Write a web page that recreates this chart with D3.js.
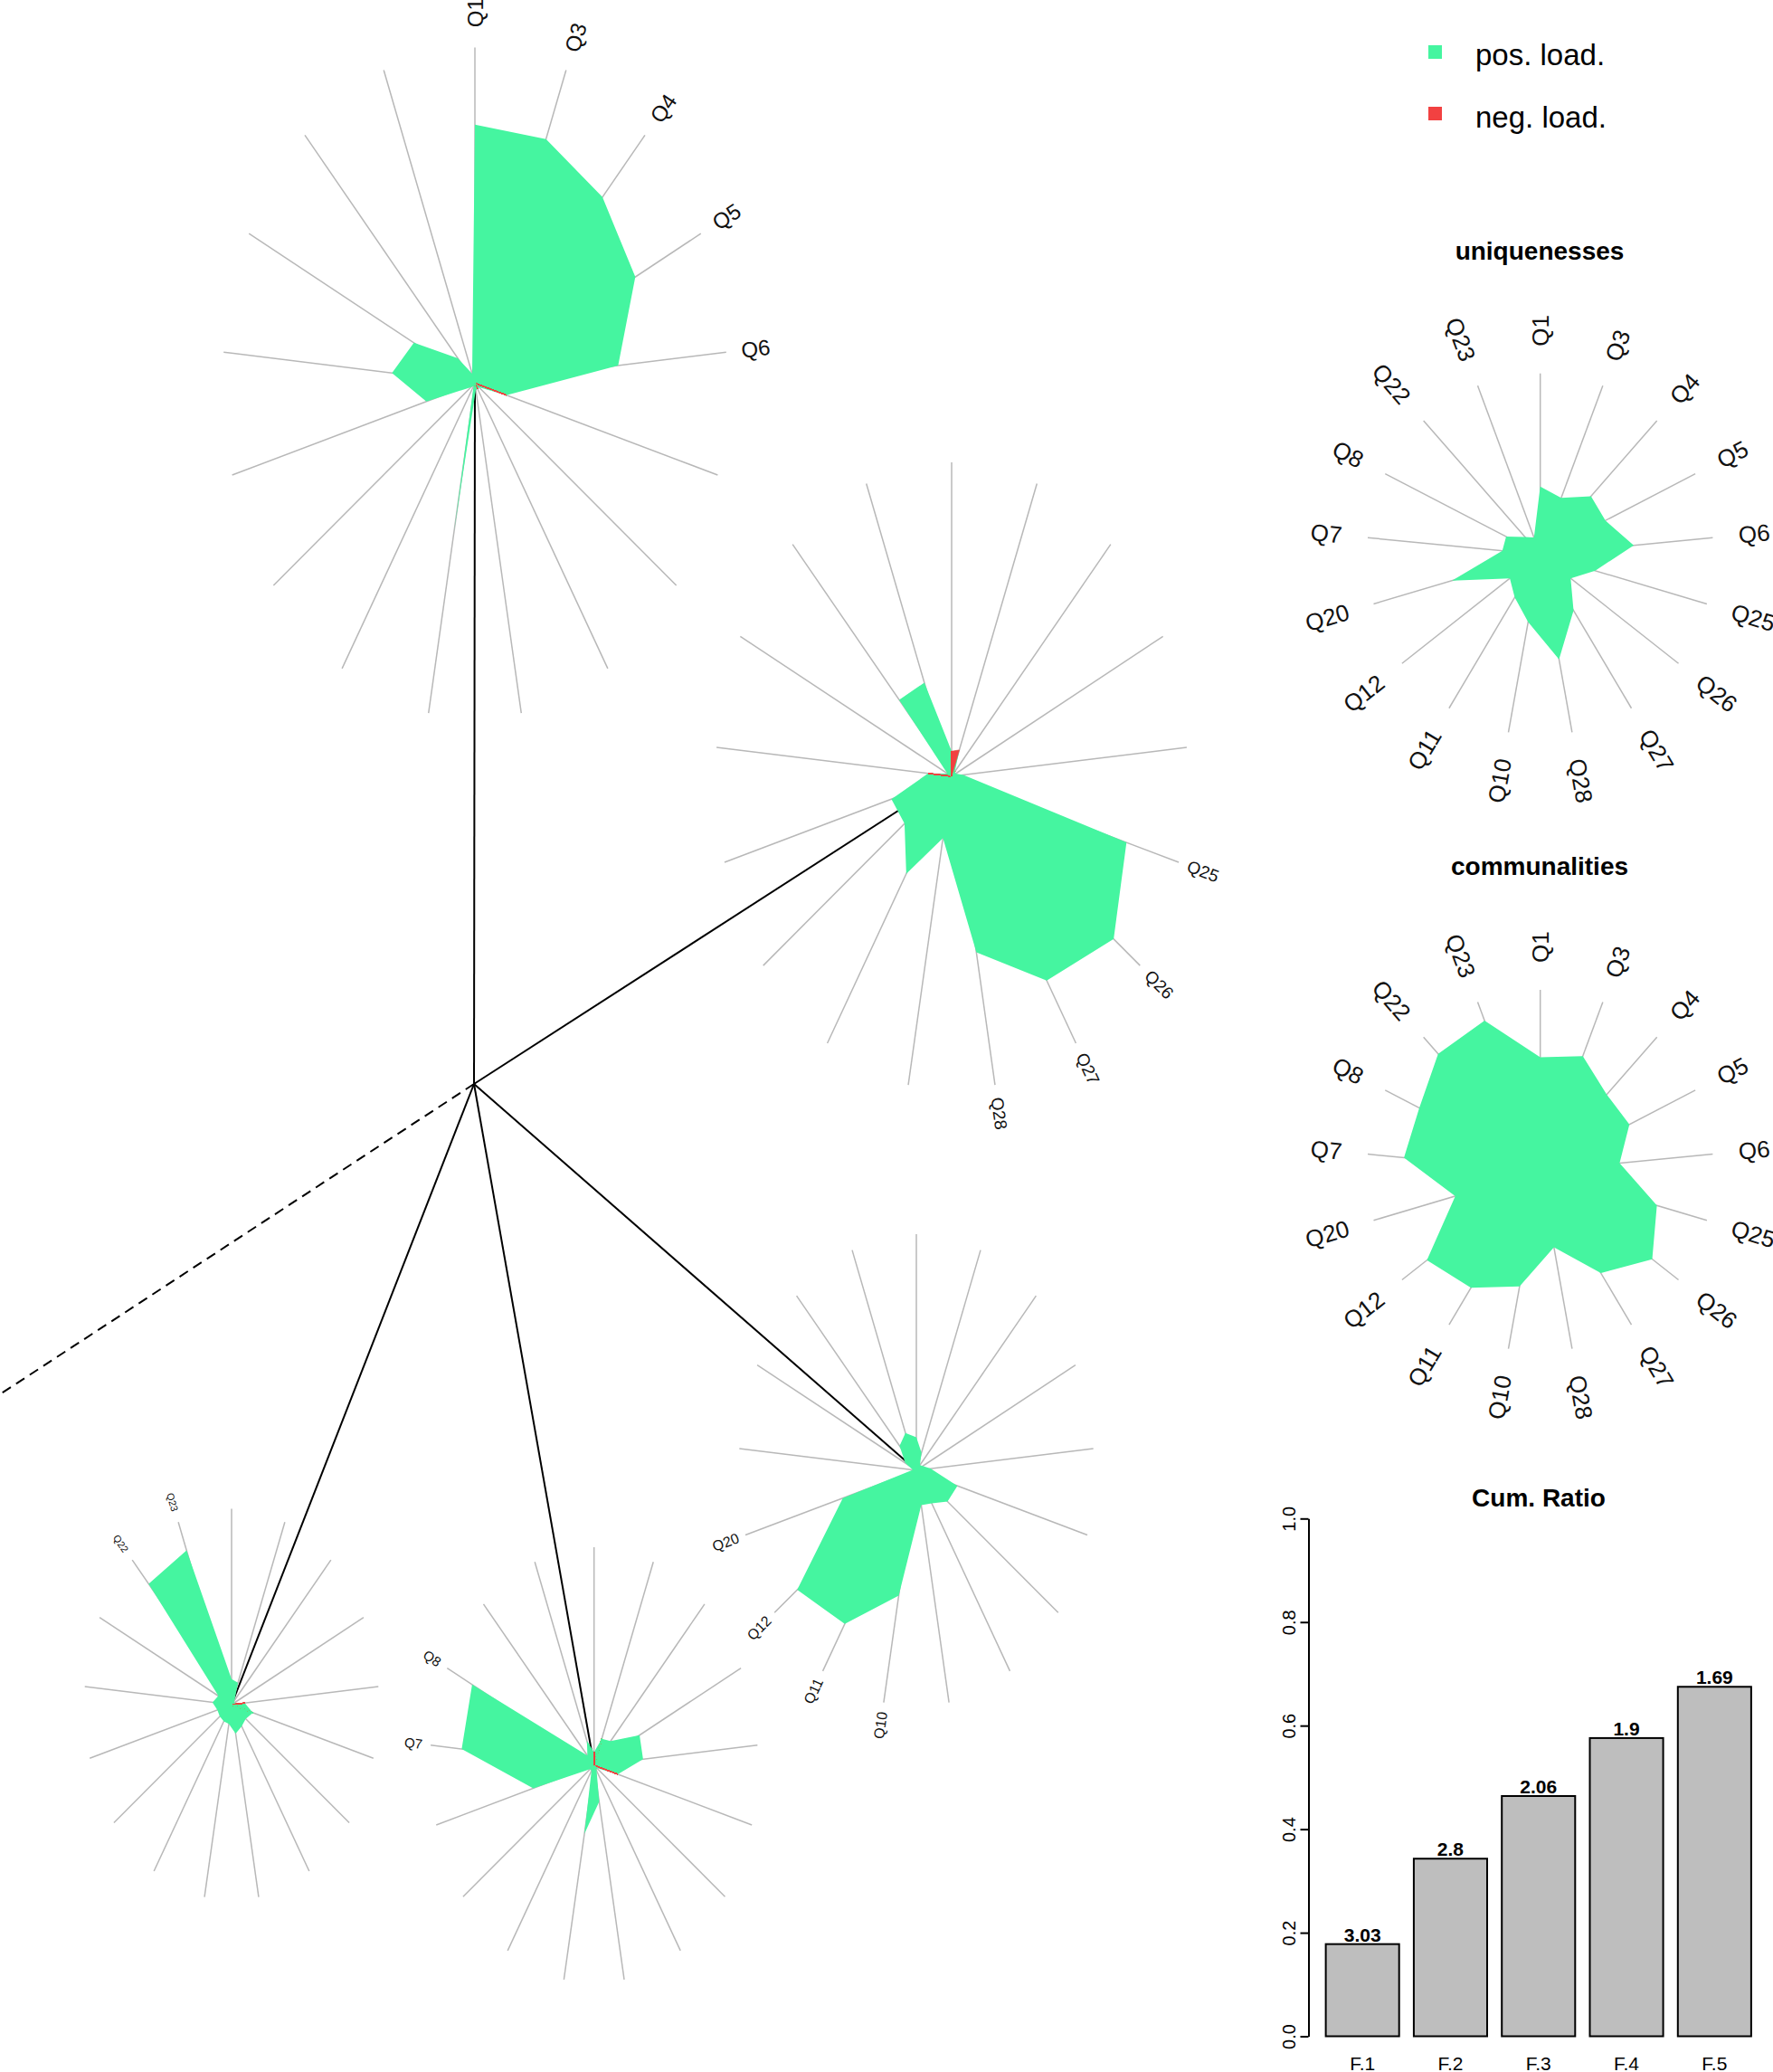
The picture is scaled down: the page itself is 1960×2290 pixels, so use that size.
<!DOCTYPE html>
<html>
<head>
<meta charset="utf-8">
<script src="https://cdn.jsdelivr.net/npm/d3@7"></script>
<style>
  html, body { margin: 0; padding: 0; background: #fff; }
  svg { display: block; font-family: "Liberation Sans", Arial, sans-serif; }
</style>
</head>
<body>
<div id="chart"></div>
<script>
// variables, clockwise from the top of every star
const variables = ["Q1", "Q3", "Q4", "Q5", "Q6", "Q25", "Q26", "Q27", "Q28", "Q10", "Q11", "Q12", "Q20", "Q7", "Q8", "Q22", "Q23"];
// factor on which each variable gets its label (0 = F.1 ... 4 = F.5)
const labelFactor = [0, 0, 0, 0, 0, 1, 1, 1, 1, 2, 2, 2, 2, 3, 3, 4, 4];

// factor loadings
const loadF1 = [0.77, 0.78, 0.75, 0.71, 0.57, -0.13, 0.02, -0.02, 0.02, 0.45, 0.01, 0.02, 0.20, 0.33, 0.27, 0.10, 0.03];
const loadF2 = [-0.08, -0.09, 0.02, 0.02, 0.05, 0.77, 0.86, 0.765, 0.57, 0.20, 0.365, 0.25, 0.265, -0.10, 0.02, 0.33, 0.32];
const loadF3 = [0.14, 0.08, 0.03, 0.04, 0.08, 0.24, 0.22, 0.165, 0.15, 0.54, 0.765, 0.84, 0.43, 0.02, 0.07, 0.14, 0.17];
const loadF4 = [-0.06, 0.13, 0.15, 0.31, 0.30, -0.15, 0.02, 0.03, 0.17, 0.32, 0.03, 0.03, 0.385, 0.81, 0.83, 0.06, 0.12];
const loadF5 = [0.13, 0.12, 0.03, 0.02, -0.09, 0.15, 0.12, 0.13, 0.15, 0.10, 0.10, 0.10, 0.10, 0.13, 0.10, 0.835, 0.845];

const uniquenesses = [0.375, 0.335, 0.435, 0.42, 0.542, 0.33, 0.22, 0.365, 0.59, 0.38, 0.28, 0.22, 0.53, 0.22, 0.22, 0.13, 0.10];
const communalities = [0.627, 0.68, 0.57, 0.575, 0.46, 0.70, 0.81, 0.665, 0.43, 0.65, 0.76, 0.82, 0.51, 0.79, 0.78, 0.875, 0.89];

// cumulative ratio bars
const factorNames = ["F.1", "F.2", "F.3", "F.4", "F.5"];
const cumRatio = [0.178, 0.343, 0.464, 0.576, 0.675];
const ssLabels = ["3.03", "2.8", "2.06", "1.9", "1.69"];
const ratioTicks = [0, 0.2, 0.4, 0.6, 0.8, 1.0];

const W = 1960, H = 2290;
const GREEN = '#45F5A0', RED = '#F24141', YELLOW = '#F0F000', SPOKE = '#B8B8B8';
const N = variables.length;

const svg = d3.select('#chart').append('svg')
    .attr('width', W)
    .attr('height', H)
    .attr('viewBox', [0, 0, W, H]);
svg.append('rect').attr('width', W).attr('height', H).attr('fill', '#fff');

// star layout (centre + radii of the spoke ellipse)
const stars = [
    { cx: 525, cy: 423.5, rx: 279, ry: 371, font: 24, gap: 1.06 },
    { cx: 1052, cy: 858, rx: 261, ry: 347, font: 19, gap: 1.04 },
    { cx: 1013, cy: 1625, rx: 196.5, ry: 261, font: 16, gap: 1.04 },
    { cx: 656.7, cy: 1951, rx: 181.4, ry: 241, font: 15, gap: 1.05 },
    { cx: 256, cy: 1884, rx: 163, ry: 216.4, font: 11, gap: 1.06 }
];
const loadings = [loadF1, loadF2, loadF3, loadF4, loadF5];
const root = { x: 524, y: 1198 };

const angle = d3.scaleLinear().domain([0, N]).range([0, 2 * Math.PI]);
// colour along an edge, 0 = positive end, 1 = negative end
const signRamp = d3.scaleLinear().domain([0, 0.25, 0.33, 0.42, 1]).range([GREEN, GREEN, YELLOW, RED, RED]);

// tree lines (under the stars)
const tree = svg.append('g').attr('stroke', '#000').attr('stroke-width', 2).attr('fill', 'none');
tree.selectAll('line').data(stars).join('line')
    .attr('x1', root.x).attr('y1', root.y)
    .attr('x2', d => d.cx).attr('y2', d => d.cy);
tree.append('line')
    .attr('x1', root.x).attr('y1', root.y)
    .attr('x2', -60).attr('y2', root.y + (1541 - root.y) * (root.x + 60) / root.x)
    .attr('stroke-dasharray', '11,7');

function drawStar(g, values, cfg, labelIdx) {
    const sx = d3.scaleLinear([0, 1], [0, cfg.rx]);
    const sy = d3.scaleLinear([0, 1], [0, cfg.ry]);
    const pt = (i, r) => [cfg.cx + sx(r) * Math.sin(angle(i)), cfg.cy - sy(r) * Math.cos(angle(i))];

    // spokes
    g.append('g').selectAll('line').data(variables).join('line')
        .attr('x1', cfg.cx).attr('y1', cfg.cy)
        .attr('x2', (d, i) => pt(i, 1)[0])
        .attr('y2', (d, i) => pt(i, 1)[1])
        .attr('stroke', SPOKE)
        .attr('stroke-width', 1.5);

    // loading polygon (absolute values)
    const pts = values.map((v, i) => pt(i, Math.abs(v)));
    g.append('path')
        .attr('d', d3.line().curve(d3.curveLinearClosed)(pts))
        .attr('fill', GREEN);

    // edges that touch a negative loading: red, or green-yellow-red gradient
    const slices = [];
    const c = [cfg.cx, cfg.cy];
    values.forEach((v, i) => {
        const j = (i + 1) % N, w = values[j];
        if (v >= 0 && w >= 0) return;
        const a = pts[i], b = pts[j];
        if (v < 0 && w < 0) { slices.push({ p: [c, a, b], col: RED }); return; }
        const ip = d3.interpolate(a, b);
        const M = 30;
        for (let m = 0; m < M; m++) {
            const t = (m + 0.5) / M;
            slices.push({ p: [c, ip(m / M), ip((m + 1) / M)], col: signRamp(v < 0 ? 1 - t : t) });
        }
    });
    g.append('g').selectAll('path').data(slices).join('path')
        .attr('d', d => d3.line().curve(d3.curveLinearClosed)(d.p))
        .attr('fill', d => d.col)
        .attr('stroke', d => d.col)
        .attr('stroke-width', 0.6)
        .attr('stroke-linejoin', 'round');

    // labels
    g.append('g').selectAll('text').data(labelIdx).join('text')
        .attr('transform', i => {
            const [x, y] = pt(i, cfg.gap);
            const dx = x - cfg.cx, dy = y - cfg.cy;
            const a = Math.atan2(dy, dx) * 180 / Math.PI;
            return `translate(${x},${y}) rotate(${dx < -1e-6 ? a + 180 : a})`;
        })
        .attr('text-anchor', i => (pt(i, 1)[0] - cfg.cx) < -1e-6 ? 'end' : 'start')
        .attr('dominant-baseline', 'central')
        .attr('font-size', cfg.font)
        .attr('fill', '#111')
        .text(i => variables[i]);
}

stars.forEach((cfg, f) => {
    const idx = d3.range(N).filter(i => labelFactor[i] === f);
    drawStar(svg.append('g'), loadings[f], cfg, idx);
});

// legend
const legend = svg.append('g');
legend.selectAll('rect').data([GREEN, RED]).join('rect')
    .attr('x', 1579).attr('y', (d, i) => 50 + i * 68)
    .attr('width', 15).attr('height', 15)
    .attr('fill', d => d);
legend.selectAll('text').data(['pos. load.', 'neg. load.']).join('text')
    .attr('x', 1631).attr('y', (d, i) => 72 + i * 69)
    .attr('font-size', 33)
    .text(d => d);

// uniquenesses / communalities stars
const sideStars = [
    { title: 'uniquenesses', ty: 287, values: uniquenesses, cfg: { cx: 1702.7, cy: 612.7, rx: 191.5, ry: 200, font: 26, gap: 1.15 } },
    { title: 'communalities', ty: 967, values: communalities, cfg: { cx: 1702.7, cy: 1294, rx: 191.5, ry: 200, font: 26, gap: 1.15 } }
];
sideStars.forEach(s => {
    svg.append('text')
        .attr('x', 1702).attr('y', s.ty)
        .attr('text-anchor', 'middle')
        .attr('font-size', 28).attr('font-weight', 'bold')
        .text(s.title);
    drawStar(svg.append('g'), s.values, s.cfg, d3.range(N));
});

// Cum. Ratio barplot
const y = d3.scaleLinear().domain([0, 1]).range([2250.5, 1678.3]);
const x = d3.scaleBand().domain(factorNames).range([1449.4, 1952.1]).paddingInner(0.1667).paddingOuter(0.1667);
const bars = svg.append('g');

svg.append('text')
    .attr('x', 1701).attr('y', 1665)
    .attr('text-anchor', 'middle')
    .attr('font-size', 28).attr('font-weight', 'bold')
    .text('Cum. Ratio');

bars.selectAll('rect').data(cumRatio).join('rect')
    .attr('x', (d, i) => x(factorNames[i]))
    .attr('y', d => y(d))
    .attr('width', x.bandwidth())
    .attr('height', d => y(0) - y(d))
    .attr('fill', '#BEBEBE')
    .attr('stroke', '#000')
    .attr('stroke-width', 2);

bars.selectAll('text.val').data(cumRatio).join('text')
    .attr('class', 'val')
    .attr('x', (d, i) => x(factorNames[i]) + x.bandwidth() / 2)
    .attr('y', d => y(d) - 3)
    .attr('text-anchor', 'middle')
    .attr('font-size', 21).attr('font-weight', 'bold')
    .text((d, i) => ssLabels[i]);

bars.selectAll('text.name').data(factorNames).join('text')
    .attr('class', 'name')
    .attr('x', d => x(d) + x.bandwidth() / 2)
    .attr('y', 2288)
    .attr('text-anchor', 'middle')
    .attr('font-size', 21)
    .text(d => d);

const yAxis = svg.append('g')
    .attr('transform', 'translate(1446.5,0)')
    .call(d3.axisLeft(y).tickValues(ratioTicks).tickFormat(d3.format('.1f')).tickSize(9).tickSizeOuter(0));
yAxis.select('.domain').attr('stroke-width', 2);
yAxis.selectAll('.tick line').attr('stroke-width', 2);
yAxis.selectAll('.tick text')
    .attr('font-size', 20)
    .attr('font-family', '"Liberation Sans", Arial, sans-serif')
    .attr('x', null).attr('dy', null)
    .attr('text-anchor', 'middle')
    .attr('transform', 'translate(-15,0) rotate(-90)');
</script>
</body>
</html>
